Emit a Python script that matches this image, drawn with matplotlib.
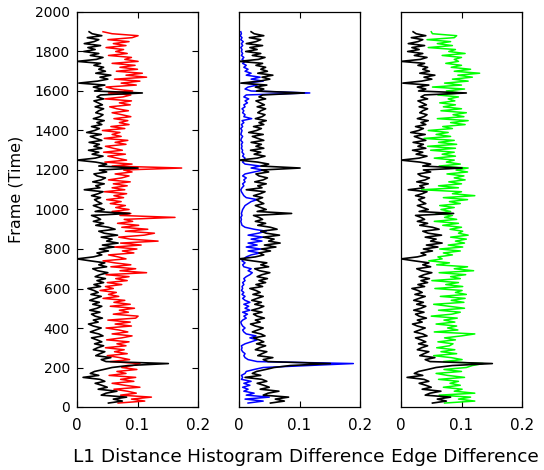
# Shot-boundary feature traces: three measures against frame index
import numpy as np
import matplotlib
matplotlib.use('Agg')
import matplotlib.pyplot as plt

# sampled every 10 frames, starting at frame 20
FRAME_START = 20
FRAME_STEP = 10

# reference trace (black), drawn in every panel
black = [0.052, 0.075, 0.060, 0.082, 0.040, 0.048, 0.066, 0.035, 0.050, 0.041,
         0.030, 0.046, 0.038, 0.010, 0.036, 0.022, 0.029, 0.044, 0.058, 0.085,
         0.151, 0.048, 0.040, 0.056, 0.031, 0.038, 0.046, 0.027, 0.034, 0.044,
         0.029, 0.041, 0.033, 0.024, 0.043, 0.036, 0.022, 0.031, 0.040, 0.027,
         0.019, 0.035, 0.027, 0.042, 0.030, 0.024, 0.038, 0.021, 0.033, 0.041,
         0.026, 0.037, 0.021, 0.030, 0.040, 0.023, 0.035, 0.028, 0.018, 0.039,
         0.028, 0.044, 0.033, 0.047, 0.030, 0.038, 0.051, 0.034, 0.026, 0.049,
         0.036, 0.046, 0.022, 0.000, 0.027, 0.041, 0.033, 0.052, 0.037, 0.061,
         0.042, 0.068, 0.049, 0.058, 0.040, 0.067, 0.045, 0.036, 0.063, 0.052,
         0.031, 0.044, 0.027, 0.039, 0.033, 0.024, 0.087, 0.030, 0.045, 0.036,
         0.027, 0.041, 0.034, 0.029, 0.039, 0.024, 0.035, 0.043, 0.012, 0.038,
         0.031, 0.045, 0.026, 0.040, 0.047, 0.033, 0.028, 0.049, 0.037, 0.101,
         0.036, 0.049, 0.031, 0.000, 0.030, 0.043, 0.025, 0.036, 0.019, 0.041,
         0.028, 0.037, 0.020, 0.041, 0.031, 0.022, 0.040, 0.016, 0.029, 0.037,
         0.024, 0.041, 0.033, 0.045, 0.027, 0.038, 0.043, 0.031, 0.036, 0.044,
         0.030, 0.042, 0.035, 0.028, 0.044, 0.033, 0.039, 0.108, 0.029, 0.041,
         0.027, 0.046, 0.003, 0.034, 0.051, 0.038, 0.056, 0.031, 0.047, 0.036,
         0.044, 0.028, 0.039, 0.000, 0.032, 0.043, 0.022, 0.036, 0.011, 0.030,
         0.018, 0.039, 0.012, 0.028, 0.036, 0.017, 0.041, 0.025, 0.020]

l1_distance = [0.068, 0.112, 0.090, 0.123, 0.072, 0.098, 0.083, 0.061, 0.104, 0.079,
               0.058, 0.094, 0.072, 0.097, 0.053, 0.081, 0.066, 0.099, 0.074, 0.092,
               0.104, 0.055, 0.087, 0.071, 0.050, 0.083, 0.062, 0.078, 0.047, 0.081,
               0.066, 0.086, 0.049, 0.074, 0.091, 0.058, 0.084, 0.069, 0.048, 0.090,
               0.063, 0.088, 0.051, 0.097, 0.101, 0.060, 0.085, 0.070, 0.095, 0.055,
               0.088, 0.061, 0.079, 0.043, 0.069, 0.052, 0.065, 0.038, 0.060, 0.047,
               0.074, 0.050, 0.083, 0.064, 0.086, 0.048, 0.115, 0.071, 0.097, 0.056,
               0.089, 0.062, 0.043, 0.081, 0.068, 0.052, 0.094, 0.075, 0.099, 0.061,
               0.106, 0.072, 0.134, 0.088, 0.069, 0.111, 0.128, 0.080, 0.117, 0.074,
               0.102, 0.067, 0.092, 0.078, 0.162, 0.071, 0.089, 0.058, 0.086, 0.064,
               0.080, 0.055, 0.073, 0.049, 0.077, 0.061, 0.082, 0.045, 0.079, 0.058,
               0.083, 0.060, 0.088, 0.052, 0.074, 0.086, 0.063, 0.091, 0.077, 0.173,
               0.058, 0.091, 0.046, 0.082, 0.066, 0.051, 0.080, 0.044, 0.075, 0.060,
               0.047, 0.081, 0.063, 0.084, 0.045, 0.073, 0.058, 0.071, 0.042, 0.079,
               0.056, 0.086, 0.070, 0.084, 0.061, 0.089, 0.074, 0.058, 0.085, 0.066,
               0.054, 0.088, 0.070, 0.090, 0.046, 0.076, 0.089, 0.052, 0.092, 0.061,
               0.048, 0.098, 0.073, 0.104, 0.062, 0.115, 0.081, 0.108, 0.065, 0.100,
               0.071, 0.096, 0.058, 0.101, 0.079, 0.090, 0.052, 0.083, 0.064, 0.077,
               0.048, 0.081, 0.060, 0.086, 0.051, 0.091, 0.101, 0.058, 0.043]

hist_diff = [0.015, 0.040, 0.010, 0.050, 0.012, 0.025, 0.008, 0.015, 0.006, 0.018,
             0.008, 0.020, 0.004, 0.006, 0.004, 0.010, 0.012, 0.025, 0.040, 0.113,
             0.189, 0.030, 0.015, 0.010, 0.008, 0.010, 0.006, 0.004, 0.005, 0.004,
             0.010, 0.020, 0.030, 0.018, 0.028, 0.012, 0.008, 0.006, 0.010, 0.006,
             0.004, 0.003, 0.006, 0.012, 0.008, 0.014, 0.006, 0.018, 0.010, 0.016,
             0.008, 0.018, 0.010, 0.006, 0.010, 0.005, 0.008, 0.004, 0.006, 0.005,
             0.008, 0.006, 0.010, 0.008, 0.012, 0.018, 0.022, 0.015, 0.020, 0.008,
             0.006, 0.010, 0.005, 0.008, 0.012, 0.020, 0.035, 0.015, 0.036, 0.012,
             0.030, 0.015, 0.038, 0.020, 0.040, 0.015, 0.032, 0.045, 0.025, 0.010,
             0.005, 0.004, 0.003, 0.004, 0.003, 0.005, 0.004, 0.005, 0.006, 0.008,
             0.010, 0.015, 0.020, 0.030, 0.012, 0.008, 0.006, 0.004, 0.003, 0.005,
             0.008, 0.006, 0.010, 0.008, 0.012, 0.006, 0.010, 0.025, 0.040, 0.020,
             0.035, 0.010, 0.006, 0.008, 0.010, 0.006, 0.008, 0.005, 0.006, 0.004,
             0.005, 0.004, 0.006, 0.003, 0.004, 0.006, 0.003, 0.004, 0.005, 0.003,
             0.006, 0.004, 0.008, 0.005, 0.021, 0.008, 0.010, 0.006, 0.008, 0.005,
             0.010, 0.008, 0.014, 0.010, 0.016, 0.008, 0.012, 0.117, 0.020, 0.010,
             0.015, 0.030, 0.012, 0.040, 0.020, 0.035, 0.012, 0.020, 0.010, 0.015,
             0.008, 0.012, 0.006, 0.010, 0.005, 0.008, 0.004, 0.006, 0.004, 0.005,
             0.003, 0.006, 0.004, 0.007, 0.003, 0.005, 0.002, 0.004, 0.003]

edge_diff = [0.072, 0.122, 0.095, 0.115, 0.063, 0.122, 0.088, 0.101, 0.070, 0.098,
             0.081, 0.095, 0.062, 0.105, 0.077, 0.058, 0.100, 0.071, 0.108, 0.118,
             0.136, 0.070, 0.101, 0.083, 0.054, 0.092, 0.066, 0.089, 0.059, 0.080,
             0.086, 0.061, 0.090, 0.072, 0.100, 0.122, 0.055, 0.094, 0.077, 0.092,
             0.058, 0.089, 0.071, 0.093, 0.050, 0.084, 0.098, 0.062, 0.105, 0.079,
             0.054, 0.104, 0.083, 0.106, 0.065, 0.108, 0.090, 0.101, 0.056, 0.102,
             0.074, 0.095, 0.051, 0.098, 0.082, 0.107, 0.063, 0.120, 0.088, 0.110,
             0.059, 0.080, 0.046, 0.068, 0.061, 0.085, 0.070, 0.098, 0.064, 0.102,
             0.078, 0.105, 0.090, 0.108, 0.082, 0.111, 0.095, 0.102, 0.081, 0.100,
             0.069, 0.095, 0.055, 0.092, 0.072, 0.085, 0.058, 0.082, 0.066, 0.088,
             0.064, 0.098, 0.080, 0.110, 0.070, 0.122, 0.085, 0.100, 0.034, 0.095,
             0.062, 0.100, 0.079, 0.106, 0.088, 0.104, 0.076, 0.110, 0.091, 0.111,
             0.063, 0.098, 0.075, 0.088, 0.055, 0.090, 0.068, 0.088, 0.049, 0.090,
             0.044, 0.092, 0.062, 0.088, 0.038, 0.082, 0.058, 0.078, 0.045, 0.085,
             0.069, 0.106, 0.082, 0.111, 0.060, 0.104, 0.086, 0.108, 0.066, 0.100,
             0.070, 0.090, 0.064, 0.089, 0.078, 0.095, 0.061, 0.098, 0.075, 0.105,
             0.052, 0.100, 0.072, 0.111, 0.085, 0.118, 0.094, 0.130, 0.088, 0.115,
             0.083, 0.100, 0.074, 0.095, 0.088, 0.100, 0.068, 0.106, 0.079, 0.090,
             0.045, 0.085, 0.060, 0.082, 0.043, 0.088, 0.092, 0.052, 0.050]

titles = ['L1 Distance', 'Histogram Difference', 'Edge Difference']
colors = ['#ff0000', '#0000ff', '#00ff00']
x_ticks = [0, 0.1, 0.2]
x_ticklabels = ['0', '0.1', '0.2']
y_ticks = list(range(0, 2001, 200))


def plot_traces():
    """
    three side-by-side panels, frame on the vertical axis
    """
    plt.rcParams['font.family'] = 'DejaVu Sans'
    fig = plt.figure(figsize=(5.44, 4.70), dpi=100)

    frames = FRAME_START + FRAME_STEP * np.arange(len(black))
    lefts = [77, 239, 401]
    label_x = [0.42, 0.39, 0.53]  # label centres sit a bit off the panel centres
    series = [l1_distance, hist_diff, edge_diff]

    for i in range(3):
        ax = fig.add_axes([lefts[i] / 544, 63 / 470, 121 / 544, 395 / 470])
        ax.plot(series[i], frames, color=colors[i], lw=1.1)
        ax.plot(black, frames, color='black', lw=1.2)
        ax.set_xlim(0, 0.2)
        ax.set_ylim(0, 2000)
        ax.set_xticks(x_ticks)
        ax.set_xticklabels(x_ticklabels, fontsize=11)
        ax.tick_params(axis='x', direction='in', top=True, length=4, pad=8)
        ax.set_xlabel(titles[i], fontsize=13.3, labelpad=9)
        ax.xaxis.set_label_coords(label_x[i], -0.105)
        for sp in ax.spines.values():
            sp.set_linewidth(0.9)
        if i == 0:
            ax.set_yticks(y_ticks)
            ax.set_yticklabels([str(t) for t in y_ticks], fontsize=10)
            ax.tick_params(axis='y', direction='in', right=True, length=4, pad=5)
        else:
            ax.set_yticks([])

    fig.text(16 / 544, 1 - 189 / 470, 'Frame (Time)', rotation=90,
             ha='center', va='center', fontsize=11.5)

    fig.savefig('out.png', dpi=100)
    return None


if __name__ == "__main__":
    plot_traces()
